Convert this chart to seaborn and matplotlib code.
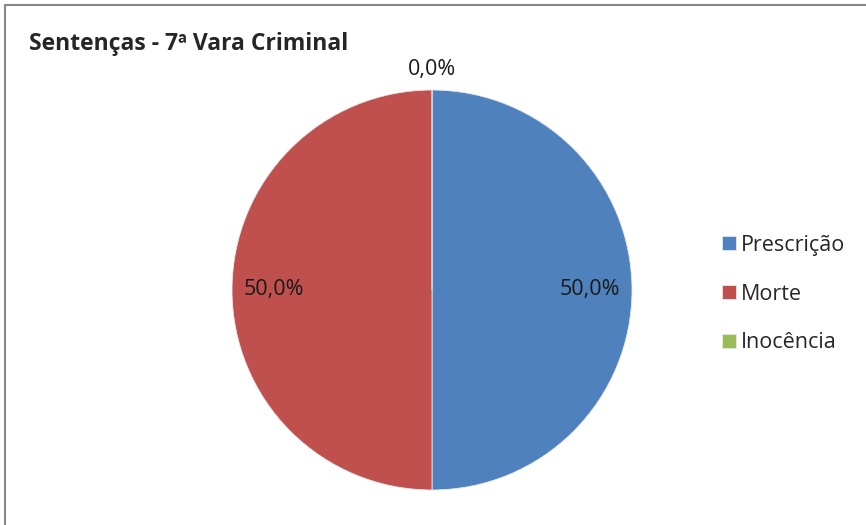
import numpy as np
import seaborn as sns
import matplotlib.pyplot as plt
from matplotlib.patches import Rectangle

categories = ['Prescrição', 'Morte', 'Inocência']
values = [1, 1, 0]
colors = ['#4F81BD', '#C0504D', '#9BBB59']
title = 'Sentenças - 7ª Vara Criminal'

sns.set_theme(style='white')
plt.rcParams['font.family'] = ['Open Sans', 'DejaVu Sans']

fig = plt.figure(figsize=(8.66, 5.25), dpi=100)
W, H = 866, 525

# outer chart frame (right/bottom cut off in the original)
fig.patches.append(Rectangle((5 / W, -0.1), 1.2, 1 - 5 / H + 0.1, transform=fig.transFigure,
                             fill=False, edgecolor='#868686', linewidth=1.5))

ax = fig.add_axes([(432 - 200) / W, (525 - 490) / H, 400 / W, 400 / H])
wedges, _ = ax.pie(values, colors=colors, startangle=90, counterclock=False, radius=1,
                   wedgeprops=dict(edgecolor='#e8e8e8', linewidth=0.6))
ax.set_xlim(-1, 1)
ax.set_ylim(-1, 1)
ax.set_aspect('equal')
ax.axis('off')

total = sum(values)
for w, v in zip(wedges, values):
    mid = np.deg2rad((w.theta1 + w.theta2) / 2)
    d = 0.79 if v > 0 else 1.1
    pct = f'{100 * v / total:.1f}%'.replace('.', ',')
    ax.text(d * np.cos(mid), d * np.sin(mid), pct, ha='center', va='center',
            fontsize=15.5, color='#1a1a1a', clip_on=False)

fig.text(29 / W, 1 - 44 / H, title, fontsize=16.5, fontweight='bold', va='center', ha='left')

fig.legend(wedges, categories, loc='center left', bbox_to_anchor=(711 / W, 1 - 294 / H),
           frameon=False, fontsize=15.5, handlelength=0.65, handleheight=0.65,
           handletextpad=0.25, labelspacing=1.3, borderpad=0)

fig.savefig('out.png', dpi=100)
